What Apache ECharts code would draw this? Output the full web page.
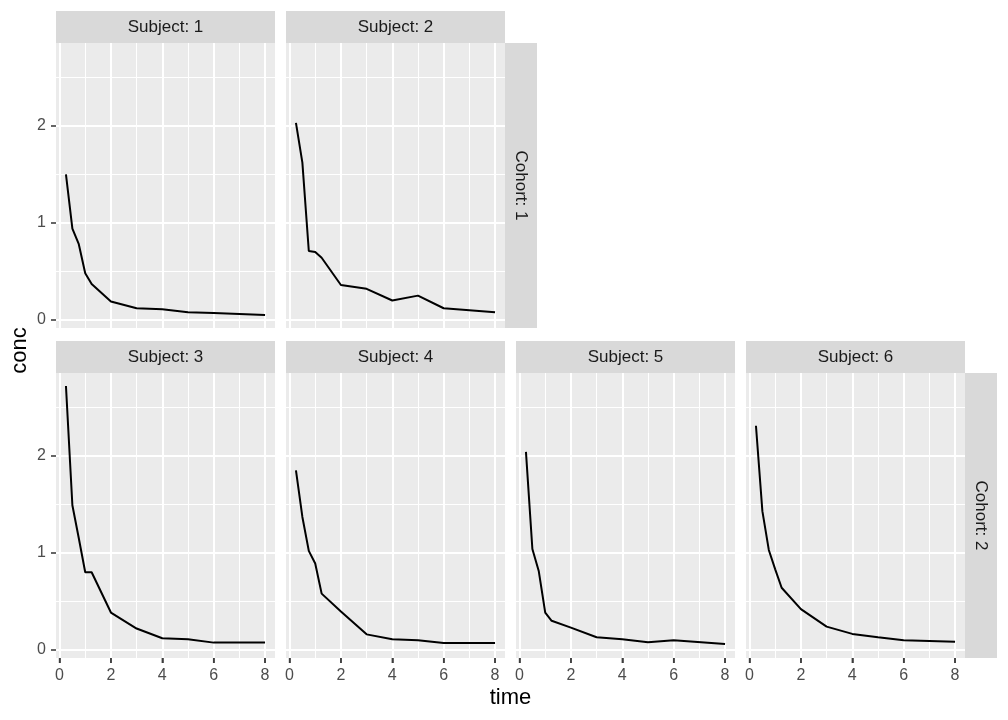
<!DOCTYPE html>
<html>
<head>
<meta charset="utf-8">
<script src="https://cdn.jsdelivr.net/npm/echarts@6/dist/echarts.min.js"></script>
<style>
  html, body { margin: 0; padding: 0; background: #fff; }
  #chart { width: 1008px; height: 720px; }
</style>
</head>
<body>
<div id="chart"></div>
<script>
// ---- data ----
const times = [0.25, 0.5, 0.75, 1, 1.25, 2, 3, 4, 5, 6, 8];
const subjectLabels = ['Subject: 1', 'Subject: 2', 'Subject: 3', 'Subject: 4', 'Subject: 5', 'Subject: 6'];
const cohortLabels = ['Cohort: 1', 'Cohort: 2'];
const subjectCohort = [0, 0, 1, 1, 1, 1];
const conc1 = [1.50, 0.94, 0.78, 0.48, 0.37, 0.19, 0.12, 0.11, 0.08, 0.07, 0.05];
const conc2 = [2.03, 1.62, 0.71, 0.70, 0.64, 0.36, 0.32, 0.20, 0.25, 0.12, 0.08];
const conc3 = [2.72, 1.49, 1.15, 0.80, 0.80, 0.385, 0.22, 0.12, 0.11, 0.075, 0.075];
const conc4 = [1.85, 1.37, 1.02, 0.89, 0.58, 0.395, 0.16, 0.11, 0.10, 0.07, 0.07];
const conc5 = [2.04, 1.04, 0.81, 0.385, 0.30, 0.23, 0.13, 0.11, 0.08, 0.10, 0.06];
const conc6 = [2.31, 1.43, 1.03, 0.83, 0.64, 0.42, 0.24, 0.165, 0.13, 0.10, 0.085];
const concs = [conc1, conc2, conc3, conc4, conc5, conc6];
const xTicks = [0, 2, 4, 6, 8];
const xMinor = [1, 3, 5, 7];
const yTicks = [0, 1, 2];
const yMinor = [0.5, 1.5, 2.5];

// ---- scales (ggplot-style 5% expansion) ----
const allC = concs.flat();
const cMin = Math.min(...allC), cMax = Math.max(...allC);
const tMin = Math.min(...times), tMax = Math.max(...times);
const xPad = (tMax - tMin) * 0.05, yPad = (cMax - cMin) * 0.05;
const xMinV = tMin - xPad, xMaxV = tMax + xPad;
const yMinV = cMin - yPad, yMaxV = cMax + yPad;

// ---- layout ----
const PW = 219, PH = 285, STEP = 230, LEFT0 = 56;
const ROW_TOP = [43, 373];
const STRIP = 32;
const FONT = 'Liberation Sans, Arial, sans-serif';

const grids = [], xAxes = [], yAxes = [], series = [], graphics = [];

concs.forEach((c, i) => {
  const row = i < 2 ? 0 : 1;
  const col = i < 2 ? i : i - 2;
  const left = LEFT0 + col * STEP;
  const top = ROW_TOP[row];
  grids.push({
    left: left, top: top, width: PW, height: PH,
    show: true, backgroundColor: '#EBEBEB', borderWidth: 0, containLabel: false
  });
  const showX = row === 1;
  const showY = col === 0;
  xAxes.push({
    type: 'value', gridIndex: i, min: xMinV, max: xMaxV, position: 'bottom',
    axisLine: { show: false, onZero: false },
    splitLine: { show: false },
    axisTick: { show: showX, customValues: xTicks, length: 5, lineStyle: { color: '#333333', width: 1.5 } },
    axisLabel: { show: showX, customValues: xTicks, color: '#4D4D4D', fontSize: 16, fontFamily: FONT, margin: 10 }
  });
  yAxes.push({
    type: 'value', gridIndex: i, min: yMinV, max: yMaxV, position: 'left',
    axisLine: { show: false, onZero: false },
    splitLine: { show: false },
    axisTick: { show: showY, customValues: yTicks, length: 5, lineStyle: { color: '#333333', width: 1.5 } },
    axisLabel: { show: showY, customValues: yTicks, color: '#4D4D4D', fontSize: 16, fontFamily: FONT, margin: 10 }
  });
  const ml = [];
  xMinor.forEach(v => ml.push({ xAxis: v, lineStyle: { width: 1 } }));
  yMinor.forEach(v => ml.push({ yAxis: v, lineStyle: { width: 1 } }));
  xTicks.forEach(v => ml.push({ xAxis: v, lineStyle: { width: 2 } }));
  yTicks.forEach(v => ml.push({ yAxis: v, lineStyle: { width: 2 } }));
  series.push({
    type: 'line', xAxisIndex: i, yAxisIndex: i, data: [], silent: true, z: 1,
    markLine: {
      silent: true, symbol: ['none', 'none'], label: { show: false },
      lineStyle: { color: '#FFFFFF', type: 'solid' },
      emphasis: { disabled: true },
      animation: false,
      data: ml
    }
  });
  series.push({
    type: 'line', xAxisIndex: i, yAxisIndex: i, z: 10,
    data: times.map((t, k) => [t, c[k]]),
    showSymbol: false, symbol: 'none',
    lineStyle: { color: '#000000', width: 2 },
    animation: false, silent: true
  });
  if (showX) {
    // x-axis tick marks just below the panel
    series.push({
      type: 'scatter', xAxisIndex: i, yAxisIndex: i, z: 10, clip: false, silent: true,
      data: xTicks.map(v => [v, yMinV]),
      symbol: 'rect', symbolSize: [1.5, 5], symbolOffset: [0, 2.5],
      itemStyle: { color: '#333333' }, animation: false
    });
  }
  // top strip
  graphics.push({
    type: 'rect', shape: { x: left, y: top - STRIP, width: PW, height: STRIP },
    style: { fill: '#D9D9D9' }, silent: true
  });
  graphics.push({
    type: 'text', x: left + PW / 2, y: top - STRIP / 2,
    style: { text: subjectLabels[i], fill: '#1A1A1A', font: '17px ' + FONT, align: 'center', verticalAlign: 'middle' },
    silent: true
  });
});

// right strips (cohort)
[[1, 0], [5, 1]].forEach(([pi, row]) => {
  const col = pi < 2 ? pi : pi - 2;
  const x = LEFT0 + col * STEP + PW;
  const top = ROW_TOP[row];
  graphics.push({
    type: 'rect', shape: { x: x, y: top, width: STRIP, height: PH },
    style: { fill: '#D9D9D9' }, silent: true
  });
  graphics.push({
    type: 'text', x: x + STRIP / 2, y: top + PH / 2, rotation: -Math.PI / 2,
    style: { text: cohortLabels[subjectCohort[pi]], fill: '#1A1A1A', font: '17px ' + FONT, align: 'center', verticalAlign: 'middle' },
    silent: true
  });
});

// axis titles
graphics.push({
  type: 'text', x: (LEFT0 + LEFT0 + 3 * STEP + PW) / 2, y: 698,
  style: { text: 'time', fill: '#000000', font: '22px ' + FONT, align: 'center', verticalAlign: 'middle' },
  silent: true
});
graphics.push({
  type: 'text', x: 20, y: (ROW_TOP[0] + ROW_TOP[1] + PH) / 2, rotation: Math.PI / 2,
  style: { text: 'conc', fill: '#000000', font: '22px ' + FONT, align: 'center', verticalAlign: 'middle' },
  silent: true
});

const chart = echarts.init(document.getElementById('chart'), null, { renderer: 'canvas' });
chart.setOption({
  backgroundColor: '#FFFFFF',
  animation: false,
  grid: grids,
  xAxis: xAxes,
  yAxis: yAxes,
  series: series,
  graphic: { elements: graphics }
});
</script>
</body>
</html>
